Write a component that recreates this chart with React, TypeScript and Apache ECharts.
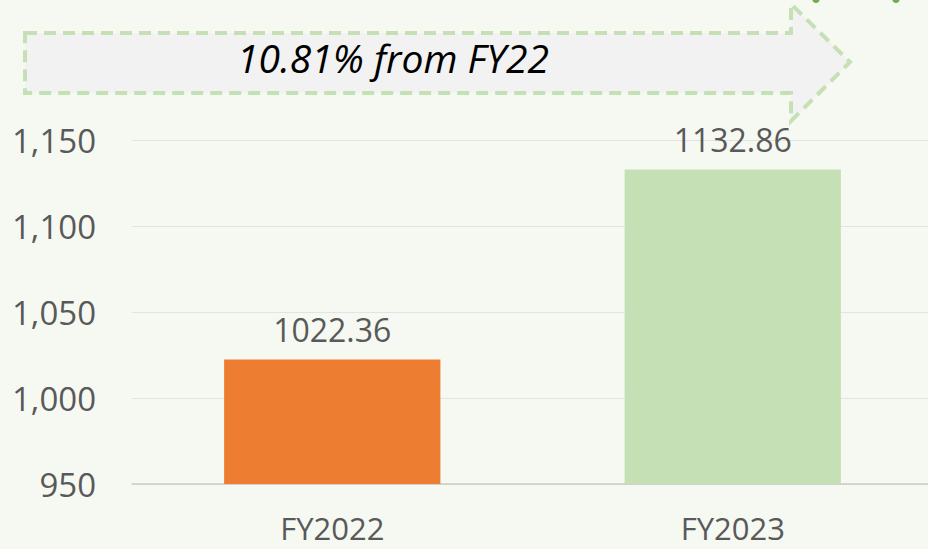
import React, { useEffect, useRef } from "react";
import * as echarts from "echarts";

const categories = ["FY2022", "FY2023"];
const values = [1022.36, 1132.86];
const barColors = ["#ed7d31", "#c5e0b4"];
const yTicks = { min: 950, max: 1150, interval: 50 };
const calloutText = "10.81% from FY22";

export default function App() {
  const ref = useRef<HTMLDivElement>(null);
  useEffect(() => {
    if (!ref.current) return;
    const chart = echarts.init(ref.current, null, { renderer: "svg" });
    const textColor = "#595959";
    const font = "'Open Sans', 'Noto Sans', sans-serif";
    chart.setOption({
      animation: false,
      backgroundColor: "#f6f8f2",
      grid: { left: 132, right: 5, top: 140, bottom: 65, containLabel: false },
      xAxis: {
        type: "category",
        data: categories,
        axisLine: { show: true, lineStyle: { color: "#cbcbcb", width: 1.5 } },
        axisTick: { show: false },
        axisLabel: { color: textColor, fontSize: 31, fontFamily: font, margin: 28 },
      },
      yAxis: {
        type: "value",
        min: yTicks.min,
        max: yTicks.max,
        interval: yTicks.interval,
        axisLine: { show: false },
        axisTick: { show: false },
        splitLine: { lineStyle: { color: "#e3e3e3", width: 1 } },
        axisLabel: {
          color: textColor,
          fontSize: 33,
          fontFamily: font,
          margin: 36,
          formatter: (v: number) => v.toLocaleString("en-US"),
        },
      },
      series: [
        {
          type: "bar",
          data: values.map((v, i) => ({ value: v, itemStyle: { color: barColors[i] } })),
          barCategoryGap: "46%",
          label: {
            show: true,
            position: "top",
            distance: 14,
            color: textColor,
            fontSize: 32,
            fontFamily: font,
            formatter: (p: any) => p.value.toFixed(2),
          },
        },
      ],
      graphic: [
        {
          type: "polygon",
          z: 100,
          shape: {
            points: [
              [25, 33],
              [791, 33],
              [791, 4],
              [850, 62],
              [791, 121],
              [791, 93],
              [25, 93],
            ],
          },
          style: { fill: "#f2f2f2", stroke: "#c5e0b4", lineWidth: 4, lineDash: [12, 7] },
        },
        {
          type: "text",
          z: 101,
          x: 393,
          y: 57,
          style: {
            text: calloutText,
            fill: "#000000",
            font: `italic 39px ${font}`,
            align: "center",
            verticalAlign: "middle",
          },
        },
        {
          type: "ellipse",
          z: 101,
          shape: { cx: 816, cy: 0, rx: 3.5, ry: 3 },
          style: { fill: "#70ad47" },
        },
        {
          type: "ellipse",
          z: 101,
          shape: { cx: 896, cy: 0, rx: 3.5, ry: 3 },
          style: { fill: "#70ad47" },
        },
      ],
    });
    return () => chart.dispose();
  }, []);
  return (
    <div
      style={{
        position: "absolute",
        left: 0,
        top: 0,
        width: 928,
        height: 549,
        overflow: "hidden",
      }}
    >
      <div ref={ref} style={{ width: 938, height: 549 }} />
    </div>
  );
}
